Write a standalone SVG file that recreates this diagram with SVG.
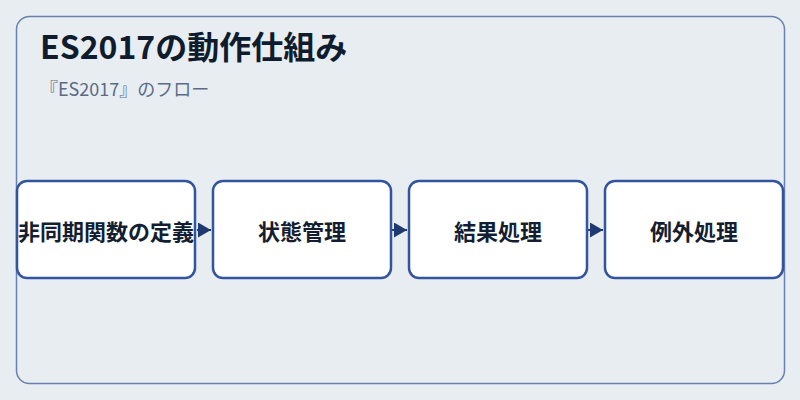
<svg xmlns="http://www.w3.org/2000/svg" width="800" height="400" viewBox="0 0 800 400">
<style>
.node rect{fill:#ffffff;stroke:#3355a0;stroke-width:2.5}
.node text{font-family:"Noto Sans CJK JP","Noto Sans",sans-serif;font-size:22px;font-weight:bold;fill:#141e30;text-anchor:middle;dominant-baseline:central}
.conn line{stroke:#1f3a70;stroke-width:2}
</style>
<defs>
<marker id="arr" markerUnits="userSpaceOnUse" markerWidth="14" markerHeight="16" refX="13" refY="7.5" orient="auto">
<path d="M0,0 L13,7.5 L0,15 Z" fill="#1f3a70"/>
</marker>
</defs>
<rect width="800" height="400" fill="#e8edf2"/>
<rect x="16.5" y="16.5" width="768" height="367" rx="13" fill="#e8edf2" stroke="#6a80b0" stroke-width="1.5"/>
<text x="40" y="58.5" font-family="'Noto Sans CJK JP',sans-serif" font-size="32" font-weight="bold" fill="#0f1c2e">ES2017の動作仕組み</text>
<text x="40" y="96" font-family="'Noto Sans CJK JP',sans-serif" font-size="18" fill="#5a6b85">『ES2017』のフロー</text>
<g class="conn">
<line x1="197" y1="230" x2="211" y2="230" marker-end="url(#arr)"/>
<line x1="392" y1="230" x2="407" y2="230" marker-end="url(#arr)"/>
<line x1="588" y1="230" x2="603" y2="230" marker-end="url(#arr)"/>
</g>
<g id="n1" class="node"><rect x="17" y="181" width="178" height="97" rx="10"/><text x="106" y="230">非同期関数の定義</text></g>
<g id="n2" class="node"><rect x="213" y="181" width="178" height="97" rx="10"/><text x="302" y="230">状態管理</text></g>
<g id="n3" class="node"><rect x="409" y="181" width="178" height="97" rx="10"/><text x="498" y="230">結果処理</text></g>
<g id="n4" class="node"><rect x="605" y="181" width="178" height="97" rx="10"/><text x="694" y="230">例外処理</text></g>
</svg>
